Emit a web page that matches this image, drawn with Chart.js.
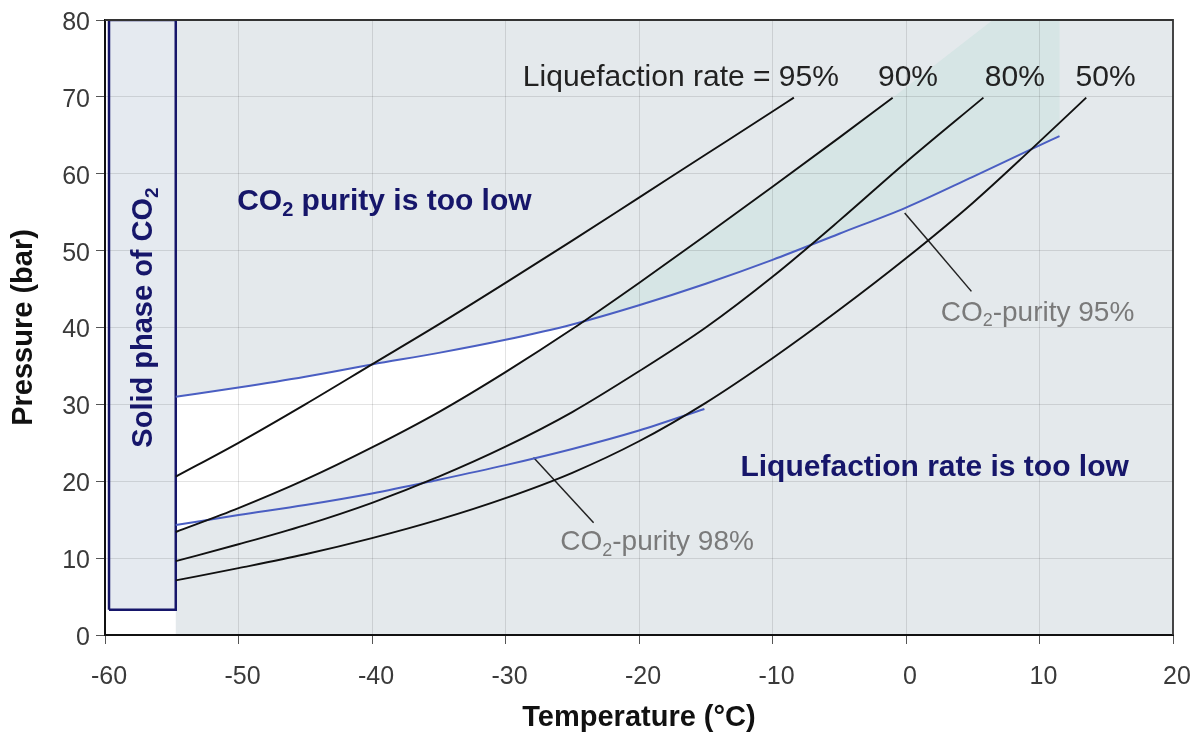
<!DOCTYPE html>
<html><head><meta charset="utf-8">
<script src="https://cdn.jsdelivr.net/npm/chart.js@4.4.0/dist/chart.umd.min.js"></script>
<style>html,body{margin:0;padding:0;background:#fff}</style>
</head><body>
<canvas id="c" width="1198" height="733"></canvas>
<script>
// ---- tick labels ----
const xTicks = [-60,-50,-40,-30,-20,-10,0,10,20];
const yTicks = [0,10,20,30,40,50,60,70,80];

// ---- liquefaction-rate curves (temperature °C, pressure bar) ----
const liq95T = [-54.7,-50,-45,-40,-35,-30,-25,-20,-15,-10,-8.4];
const liq95P = [20.6,25.0,30.0,35.2,40.4,45.8,51.3,56.9,62.5,68.1,69.9];
const liq90T = [-54.7,-50,-45,-40,-35,-30,-25,-20,-15,-10,-5,-1.0];
const liq90P = [13.4,16.5,20.2,24.4,29.0,34.2,39.8,45.8,52.0,58.3,64.7,69.9];
const liq80T = [-54.7,-50,-45,-40,-35,-30,-25,-20,-15,-10,-5,0,5.8];
const liq80P = [9.6,11.8,14.3,17.2,20.6,24.5,29.0,34.3,40.0,46.6,53.9,61.5,69.9];
const liq50T = [-54.7,-50,-45,-40,-35,-30,-25,-20,-15,-10,-5,0,5,9.4,13.5];
const liq50P = [7.1,8.7,10.5,12.6,15.0,17.8,21.1,25.2,30.2,36.0,42.3,49.0,56.2,63.2,69.9];

// ---- CO2 purity curves ----
const pur95T = [-54.7,-50,-45,-40,-35,-30,-25,-20,-15,-10,-5,0,5,9.4,11.5];
const pur95P = [31.0,32.2,33.6,35.2,36.7,38.4,40.4,42.9,45.7,48.8,52.2,55.6,59.6,63.2,64.9];
const pur98T = [-54.7,-50,-45,-40,-35,-30,-25,-20,-15.1];
const pur98P = [14.3,15.6,16.9,18.4,20.2,22.1,24.2,26.6,29.4];

// ---- leader lines for purity labels ----
const lead95T = [-0.1, 4.9];
const lead95P = [54.9, 44.7];
const lead98T = [-27.9, -23.4];
const lead98P = [23.1, 14.6];

// ---- region boundaries ----
const crossT = -24.0, crossP = 40.95;      // 90% line meets 95% purity
const tealEdgeT = 11.5, liq90TopT = 6.5;   // shaded band edges at top
const solidT = [-59.7, -54.7];             // solid phase box
const solidP = [3.3, 80];
const plotT = [-54.7, 20];
const plotP = [0, 80];

const zip = (T, P) => T.map((t, i) => ({x: t, y: P[i]}));
const cross = {x: crossT, y: crossP};
const whitePoly = [...zip(pur95T, pur95P).filter(p => p.x < crossT), cross,
                   ...zip(liq90T, liq90P).filter(p => p.x < crossT).reverse()];
const tealPoly = [cross, ...zip(pur95T, pur95P).filter(p => p.x > crossT),
                  {x: tealEdgeT, y: plotP[1]}, {x: liq90TopT, y: plotP[1]},
                  ...zip(liq90T, liq90P).filter(p => p.x > crossT).reverse()];
const boxPoly = [{x: solidT[0], y: solidP[0]}, {x: solidT[0], y: solidP[1]},
                 {x: solidT[1], y: solidP[1]}, {x: solidT[1], y: solidP[0]},
                 {x: solidT[0], y: solidP[0]}];
const bgPoly = [{x: plotT[0], y: plotP[0]}, {x: plotT[0], y: plotP[1]},
                {x: plotT[1], y: plotP[1]}, {x: plotT[1], y: plotP[0]}];

const NAVY = '#16166a';
const BLUE = '#4a5ec2';
const curve = (T, P, color, w) => ({data: zip(T, P), borderColor: color, borderWidth: w,
  fill: false, cubicInterpolationMode: 'monotone', pointRadius: 0});
const region = (pts, color) => ({data: pts, borderWidth: 0, borderColor: 'transparent',
  backgroundColor: color, fill: 'shape', pointRadius: 0, tension: 0});

const datasets = [
  curve(liq95T, liq95P, '#111', 1.9),
  curve(liq90T, liq90P, '#111', 1.9),
  curve(liq80T, liq80P, '#111', 1.9),
  curve(liq50T, liq50P, '#111', 1.9),
  curve(pur95T, pur95P, BLUE, 2),
  curve(pur98T, pur98P, BLUE, 2),
  curve(lead95T, lead95P, '#222', 1.5),
  curve(lead98T, lead98P, '#222', 1.5),
  {data: boxPoly, borderColor: NAVY, borderWidth: 2.5, backgroundColor: '#e5eaf0',
   fill: 'shape', pointRadius: 0, tension: 0},
  region(tealPoly, '#d6e5e5'),
  region(whitePoly, '#ffffff'),
  region(bgPoly, '#e4e9ec')
];

const notes = [
  {parts: [['Liquefaction rate = 95%', 0]], x: -28.7, y: 72.5, size: 30, bold: false, color: '#222'},
  {parts: [['90%', 0]], x: -2.1, y: 72.5, size: 30, bold: false, color: '#222'},
  {parts: [['80%', 0]], x: 5.9, y: 72.5, size: 30, bold: false, color: '#222'},
  {parts: [['50%', 0]], x: 12.7, y: 72.5, size: 30, bold: false, color: '#222'},
  {parts: [['CO', 0], ['2', 1], [' purity is too low', 0]], x: -50.1, y: 56.4, size: 30, bold: true, color: NAVY},
  {parts: [['Liquefaction rate is too low', 0]], x: -12.4, y: 21.7, size: 30, bold: true, color: NAVY},
  {parts: [['CO', 0], ['2', 1], ['-purity 95%', 0]], x: 2.6, y: 41.9, size: 28, bold: false, color: '#7a7a7a'},
  {parts: [['CO', 0], ['2', 1], ['-purity 98%', 0]], x: -25.9, y: 12.0, size: 28, bold: false, color: '#7a7a7a'},
  {parts: [['Solid phase of CO', 0], ['2', 1]], x: -57.1, y: 41.3, size: 29, bold: true, color: NAVY, rotate: true}
];

const FONT = '"Liberation Sans", Arial, Helvetica, sans-serif';

function fontStr(size, bold) { return (bold ? 'bold ' : '') + size + 'px ' + FONT; }

function drawRich(ctx, n, px, py) {
  ctx.save();
  ctx.fillStyle = n.color;
  ctx.textBaseline = 'middle';
  ctx.textAlign = 'left';
  const subSize = Math.round(n.size * 0.65);
  let total = 0;
  for (const [t, sub] of n.parts) {
    ctx.font = fontStr(sub ? subSize : n.size, n.bold);
    total += ctx.measureText(t).width;
  }
  ctx.translate(px, py);
  let x = 0;
  if (n.rotate) { ctx.rotate(-Math.PI / 2); x = -total / 2; }
  for (const [t, sub] of n.parts) {
    ctx.font = fontStr(sub ? subSize : n.size, n.bold);
    ctx.fillText(t, x, sub ? n.size * 0.3 : 0);
    x += ctx.measureText(t).width;
  }
  ctx.restore();
}

const annotPlugin = {
  id: 'annot',
  afterDraw(chart) {
    const ctx = chart.ctx, xs = chart.scales.x, ys = chart.scales.y;
    // plot frame (top and right)
    ctx.save();
    ctx.strokeStyle = '#333';
    ctx.lineWidth = 1.8;
    ctx.beginPath();
    ctx.moveTo(xs.getPixelForValue(xTicks[0]), ys.getPixelForValue(yTicks[yTicks.length - 1]));
    ctx.lineTo(xs.getPixelForValue(xTicks[xTicks.length - 1]), ys.getPixelForValue(yTicks[yTicks.length - 1]));
    ctx.lineTo(xs.getPixelForValue(xTicks[xTicks.length - 1]), ys.getPixelForValue(yTicks[0]));
    ctx.stroke();
    ctx.restore();
    for (const n of notes) drawRich(ctx, n, xs.getPixelForValue(n.x), ys.getPixelForValue(n.y));
  }
};

new Chart(document.getElementById('c'), {
  type: 'line',
  data: {datasets},
  plugins: [annotPlugin],
  options: {
    responsive: false,
    animation: false,
    devicePixelRatio: 1,
    layout: {padding: {top: 20, right: 25, left: 0, bottom: 0}},
    plugins: {
      legend: {display: false},
      tooltip: {enabled: false},
      filler: {drawTime: 'beforeDraw'}
    },
    elements: {point: {radius: 0}},
    scales: {
      x: {
        type: 'linear', min: xTicks[0], max: xTicks[xTicks.length - 1],
        afterFit(s) { s.height = 98; s.paddingLeft = 0; s.paddingRight = 0; },
        afterBuildTicks(s) { s.ticks = xTicks.map(v => ({value: v})); },
        ticks: {font: {family: FONT, size: 25}, color: '#3a3a3a', padding: 18, labelOffset: 4,
                maxRotation: 0, autoSkip: false, callback: v => String(v)},
        grid: {color: 'rgba(0,0,0,0.11)', lineWidth: 1, tickLength: 9, tickColor: '#555'},
        border: {display: true, color: '#111', width: 2},
        title: {display: true, text: 'Temperature (°C)', color: '#111',
                font: {family: FONT, size: 29, weight: 'bold', lineHeight: 1.0}, padding: {top: 0, bottom: 1}}
      },
      y: {
        type: 'linear', min: yTicks[0], max: yTicks[yTicks.length - 1],
        afterFit(s) { s.width = 105; s.paddingTop = 0; s.paddingBottom = 0; },
        afterBuildTicks(s) { s.ticks = yTicks.map(v => ({value: v})); },
        ticks: {font: {family: FONT, size: 25}, color: '#3a3a3a', padding: 6, labelOffset: 3,
                autoSkip: false, callback: v => String(v)},
        grid: {color: 'rgba(0,0,0,0.11)', lineWidth: 1, tickLength: 9, tickColor: '#555'},
        border: {display: true, color: '#111', width: 2},
        title: {display: true, text: 'Pressure (bar)', color: '#111',
                font: {family: FONT, size: 29, weight: 'bold', lineHeight: 1.2}, padding: {top: 7, bottom: 0}}
      }
    }
  }
});
</script>
</body></html>
